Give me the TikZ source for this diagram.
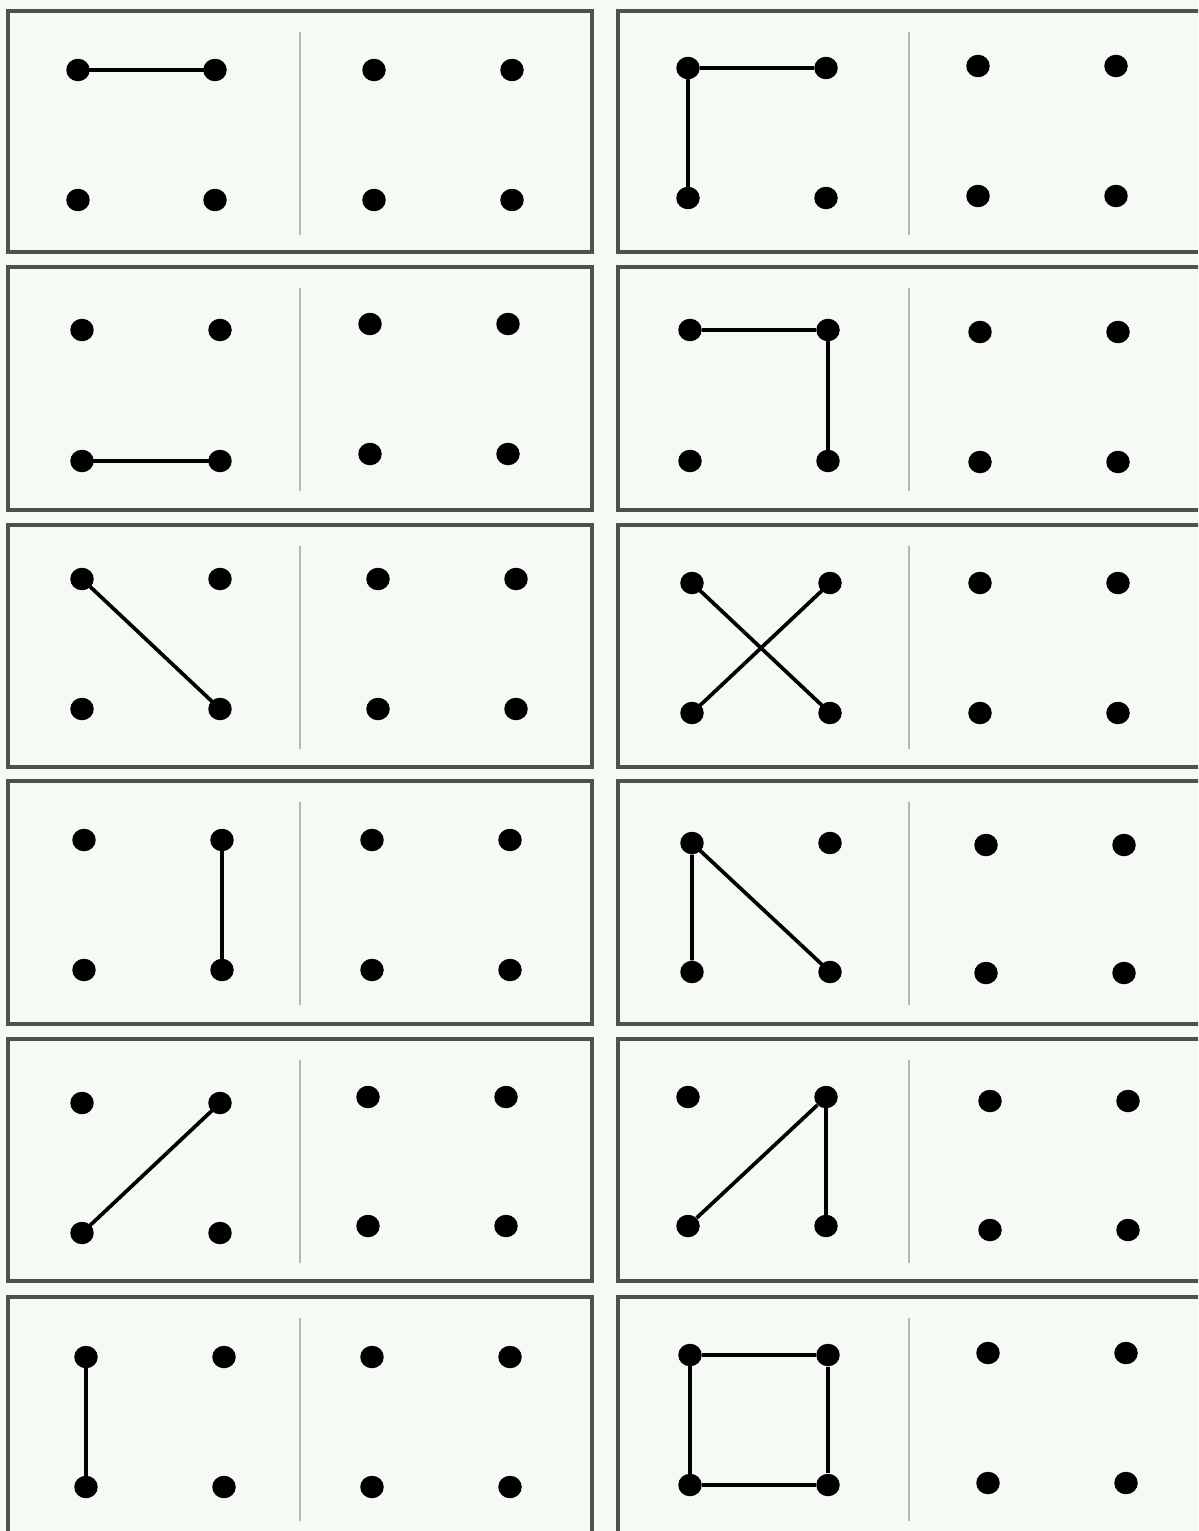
\documentclass[tikz,border=0pt]{standalone}
\definecolor{bg}{HTML}{F5FAF4}
\definecolor{panelgray}{HTML}{4E524E}
\definecolor{divgray}{HTML}{B4B8B4}
\newcommand\mkgrid[5]{%
  \node[dotnode] (#1-tl) at (#2,#3) {};
  \node[dotnode] (#1-tr) at (#4,#3) {};
  \node[dotnode] (#1-bl) at (#2,#5) {};
  \node[dotnode] (#1-br) at (#4,#5) {};
}
\tikzset{
  panel/.style={draw=panelgray, line width=2pt, fill=bg},
  divider/.style={draw=divgray, line width=1.1pt},
  dotnode/.style={ellipse, fill=black, inner sep=0pt, minimum width=0.47cm, minimum height=0.45cm},
  link/.style={line width=2.1pt, black, shorten <=-4pt, shorten >=-4pt},
}
\usetikzlibrary{shapes.geometric}
\begin{document}
\begin{tikzpicture}[x=0.02cm,y=-0.02cm]
\useasboundingbox (0,0) rectangle (1198,1531);
\clip (0,0) rectangle (1198,1531);
\fill[bg] (0,0) rectangle (1198,1531);
% panels
\foreach \t/\b in {11/252,267/510,525/767,781/1024,1039/1281,1297/1550}{
  \draw[panel] (8,\t) rectangle (592,\b);
  \draw[panel] (618,\t) rectangle (1220,\b);
  \draw[divider] (300,\t+21) -- (300,\t+224);
  \draw[divider] (909,\t+21) -- (909,\t+224);
}
% row 1
\mkgrid{aL}{78}{70}{215}{200}
\mkgrid{aLr}{374}{70}{512}{200}
\mkgrid{aR}{688}{68}{826}{198}
\mkgrid{aRr}{978}{66}{1116}{196}
\draw[link] (aL-tl) -- (aL-tr);
\draw[link] (aR-tr) -- (aR-tl) -- (aR-bl);
% row 2
\mkgrid{bL}{82}{330}{220}{461}
\mkgrid{bLr}{370}{324}{508}{454}
\mkgrid{bR}{690}{330}{828}{461}
\mkgrid{bRr}{980}{332}{1118}{462}
\draw[link] (bL-bl) -- (bL-br);
\draw[link] (bR-tl) -- (bR-tr) -- (bR-br);
% row 3
\mkgrid{cL}{82}{579}{220}{709}
\mkgrid{cLr}{378}{579}{516}{709}
\mkgrid{cR}{692}{583}{830}{713}
\mkgrid{cRr}{980}{583}{1118}{713}
\draw[link] (cL-tl) -- (cL-br);
\draw[link] (cR-tl) -- (cR-br);
\draw[link] (cR-tr) -- (cR-bl);
% row 4
\mkgrid{dL}{84}{840}{222}{970}
\mkgrid{dLr}{372}{840}{510}{970}
\mkgrid{dR}{692}{843}{830}{972}
\mkgrid{dRr}{986}{845}{1124}{973}
\draw[link] (dL-tr) -- (dL-br);
\draw[link] (dR-bl) -- (dR-tl) -- (dR-br);
% row 5
\mkgrid{eL}{82}{1103}{220}{1233}
\mkgrid{eLr}{368}{1097}{506}{1226}
\mkgrid{eR}{688}{1097}{826}{1226}
\mkgrid{eRr}{990}{1101}{1128}{1230}
\draw[link] (eL-bl) -- (eL-tr);
\draw[link] (eR-bl) -- (eR-tr) -- (eR-br);
% row 6
\mkgrid{fL}{86}{1357}{224}{1487}
\mkgrid{fLr}{372}{1357}{510}{1487}
\mkgrid{fR}{690}{1355}{828}{1485}
\mkgrid{fRr}{988}{1353}{1126}{1483}
\draw[link] (fL-tl) -- (fL-bl);
\draw[link] (fR-tl) -- (fR-tr) -- (fR-br) -- (fR-bl) -- (fR-tl);
\end{tikzpicture}
\end{document}
